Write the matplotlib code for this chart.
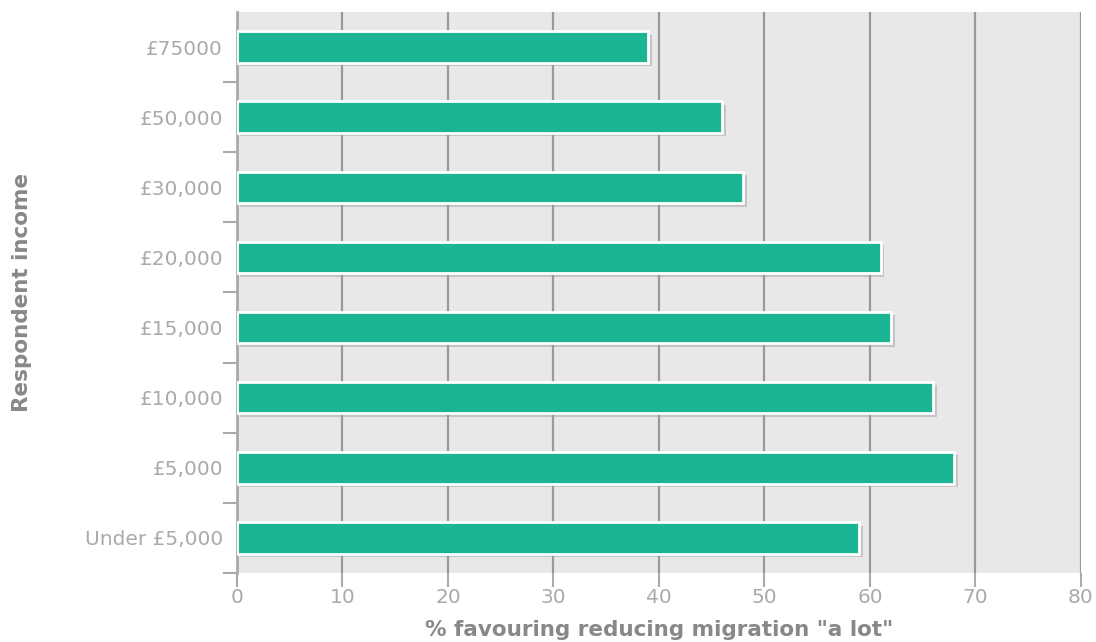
import matplotlib
matplotlib.use("Agg")
import matplotlib.pyplot as plt
import matplotlib.patheffects as pe
import numpy as np

categories = ["Under £5,000", "£5,000", "£10,000", "£15,000", "£20,000", "£30,000", "£50,000", "£75000"]
values = [59, 68, 66, 62, 61, 48, 46, 39]
x_ticks = [0, 10, 20, 30, 40, 50, 60, 70, 80]

plt.rcParams['font.family'] = ['DejaVu Sans']

fig = plt.figure(figsize=(10.96, 6.42), dpi=100)
ax = fig.add_axes([0.2162, 0.1075, 0.7701, 0.8738])
ax.set_facecolor("#e8e8e8")

y = np.arange(len(categories))
bars = ax.barh(y, values, height=0.45, color="#1cb594", edgecolor="white", linewidth=2, zorder=3)
for b in bars:
    b.set_path_effects([pe.SimplePatchShadow(offset=(2.5, -2.5), shadow_rgbFace="#999999", alpha=0.45), pe.Normal()])

ax.set_xlim(0, 80)
ax.set_ylim(-0.5, len(categories) - 0.5)
ax.set_xticks(x_ticks)
ax.set_xticklabels([str(t) for t in x_ticks])
ax.xaxis.grid(True, color="#999999", linewidth=1.6, zorder=1)
ax.set_axisbelow(True)

ax.set_yticks(np.arange(len(categories)) - 0.5)
ax.set_yticklabels([])
ax.set_yticks(y, minor=True)
ax.set_yticklabels(categories, minor=True)
ax.tick_params(axis="y", which="major", length=10, width=1.5, color="#aaaaaa", direction="out")
ax.tick_params(axis="y", which="minor", length=0, pad=10, labelsize=14.5, labelcolor="#aaaaaa")
ax.tick_params(axis="x", length=10, width=1.5, color="#aaaaaa", pad=1, labelsize=14.5, labelcolor="#aaaaaa")

for s in ["top", "right", "bottom"]:
    ax.spines[s].set_visible(False)
ax.spines["left"].set_color("#aaaaaa")
ax.spines["left"].set_linewidth(2)

ax.set_xlabel('% favouring reducing migration "a lot"', fontsize=15.5, fontweight="bold", color="#888888", labelpad=9)
ax.set_ylabel("Respondent income", fontsize=15.5, fontweight="bold", color="#888888")
ax.yaxis.label.set_va("center")
ax.yaxis.set_label_coords(-0.255, 0.5)

fig.savefig("out.png", dpi=100)
